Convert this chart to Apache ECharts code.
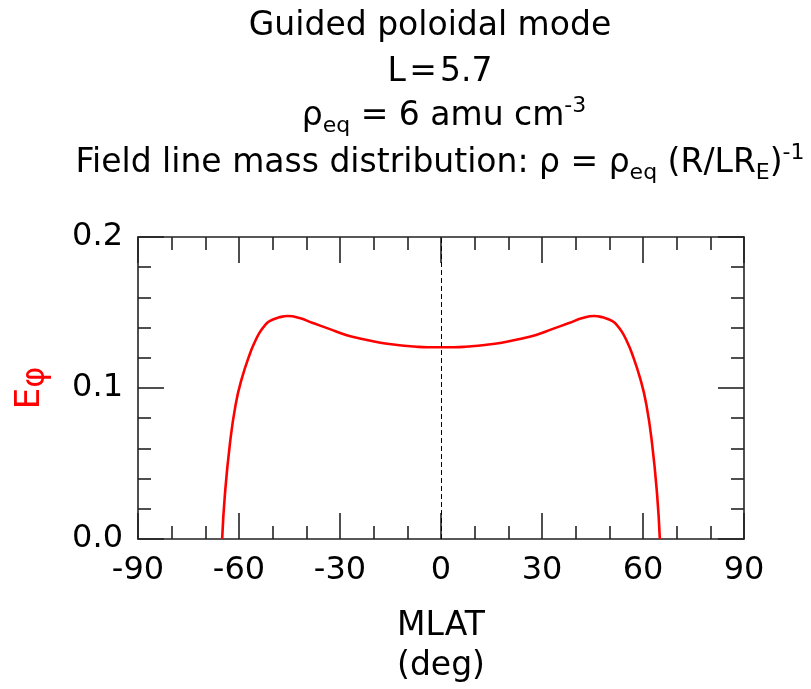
<!DOCTYPE html>
<html><head><meta charset="utf-8">
<script src="https://cdn.jsdelivr.net/npm/echarts@6/dist/echarts.min.js"></script>
<style>html,body{margin:0;padding:0;background:#fff}#c{width:811px;height:689px}</style>
</head><body><div id="c"></div>
<script>
// ---- data ----
const mlat = [-65, -64.2, -62.7, -61.0, -59.2, -56.7, -55.2, -53.8, -52.3, -50.8, -48, -45.5, -42, -38, -33, -28, -23, -18, -13, -8, -4, 0,
              4, 8, 13, 18, 23, 28, 33, 38, 42, 45.5, 48, 50.8, 52.3, 53.8, 55.2, 56.7, 59.2, 61.0, 62.7, 64.2, 65];
const ePhi = [0, 0.029, 0.063, 0.089, 0.106, 0.123, 0.131, 0.137, 0.1415, 0.1445, 0.1468, 0.1477, 0.1463, 0.143, 0.139, 0.135, 0.1323, 0.130, 0.1285, 0.1275, 0.127, 0.127,
              0.127, 0.1275, 0.1285, 0.130, 0.1323, 0.135, 0.139, 0.143, 0.1463, 0.1477, 0.1468, 0.1445, 0.1415, 0.137, 0.131, 0.123, 0.106, 0.089, 0.063, 0.029, 0];
const xRange = [-90, 90];
const xTickStep = 30;
const yRange = [0, 0.2];
const yTickStep = 0.1;
const equatorLine = 0;
const titleLines = [
  'Guided poloidal mode',
  'L\u200A=\u200A5.7',
  '{m|ρ}{s|eq}{m| = 6 amu cm}{p|-3}',
  '{m|Field line mass distribution: ρ = ρ}{s|eq}{m| (R/LR}{s|E}{m|)}{p|-1}'
];
const xName = 'MLAT\n(deg)';
const yName = '{m|E}{s|φ}';

// ---- chart ----
const FONT = 'DejaVu Sans';
const AX = '#222';
const chart = echarts.init(document.getElementById('c'), null, {renderer: 'canvas'});
const richTitle = {
  m: {fontSize: 33, fontFamily: FONT, lineHeight: 42, fill: '#000', color: '#000'},
  s: {fontSize: 22, fontFamily: FONT, lineHeight: 22, verticalAlign: 'bottom', fill: '#000', color: '#000'},
  p: {fontSize: 22, fontFamily: FONT, lineHeight: 22, verticalAlign: 'top', fill: '#000', color: '#000'}
};
const titleX = [430, 440, 444, 440];
const titleY = [26, 72, 116, 163];
const graphics = titleLines.map((t, i) => ({
  type: 'text', x: titleX[i], y: titleY[i], silent: true,
  style: {text: t, align: 'center', verticalAlign: 'middle', font: '33px "' + FONT + '"', fill: '#000', rich: richTitle}
}));

function tick() { return {show: true, inside: true, length: 26, lineStyle: {color: AX, width: 1.6}}; }
function minor(n) { return {show: true, splitNumber: n, length: 13, lineStyle: {color: AX, width: 1.6}}; }
function axLine() { return {show: true, onZero: false, lineStyle: {color: AX, width: 1.6}}; }

chart.setOption({
  animation: false,
  backgroundColor: '#fff',
  grid: {left: 138, right: 67, top: 237, bottom: 150, containLabel: false, outerBoundsMode: 'none'},
  graphic: graphics,
  xAxis: [{
    type: 'value', min: xRange[0], max: xRange[1], interval: xTickStep, position: 'bottom',
    axisLine: axLine(), axisTick: tick(), minorTick: minor(3),
    splitLine: {show: false}, minorSplitLine: {show: false},
    axisLabel: {show: true, margin: 16, fontSize: 32, fontFamily: FONT, color: '#000'},
    name: xName, nameLocation: 'middle', nameGap: 67,
    nameTextStyle: {fontSize: 33, fontFamily: FONT, color: '#000', lineHeight: 40}
  }, {
    type: 'value', min: xRange[0], max: xRange[1], interval: xTickStep, position: 'top',
    axisLine: axLine(), axisTick: tick(), minorTick: minor(3),
    splitLine: {show: false}, minorSplitLine: {show: false}, axisLabel: {show: false}
  }],
  yAxis: [{
    type: 'value', min: yRange[0], max: yRange[1], interval: yTickStep, position: 'left',
    axisLine: axLine(), axisTick: tick(), minorTick: minor(5),
    splitLine: {show: false}, minorSplitLine: {show: false},
    axisLabel: {show: true, margin: 15, fontSize: 32, fontFamily: FONT, color: '#000', formatter: v => v.toFixed(1)},
    name: yName, nameLocation: 'middle', nameGap: 86, nameRotate: 90,
    nameTextStyle: {color: '#ff0000', rich: {
      m: {fontSize: 34, fontFamily: FONT, lineHeight: 44, color: '#ff0000'},
      s: {fontSize: 32, fontFamily: FONT, lineHeight: 32, verticalAlign: 'bottom', color: '#ff0000'}
    }}
  }, {
    type: 'value', min: yRange[0], max: yRange[1], interval: yTickStep, position: 'right',
    axisLine: axLine(), axisTick: tick(), minorTick: minor(5),
    splitLine: {show: false}, minorSplitLine: {show: false}, axisLabel: {show: false}
  }],
  series: [{
    type: 'line', xAxisIndex: 0, yAxisIndex: 0,
    data: mlat.map((x, i) => [x, ePhi[i]]),
    showSymbol: false, symbol: 'none', smooth: 0.5,
    lineStyle: {color: '#ff0000', width: 2.6},
    markLine: {
      silent: true, symbol: ['none', 'none'], label: {show: false},
      lineStyle: {color: '#000', width: 1, type: [5, 3]},
      data: [{xAxis: equatorLine}]
    },
    z: 3
  }]
});
</script>
</body></html>
